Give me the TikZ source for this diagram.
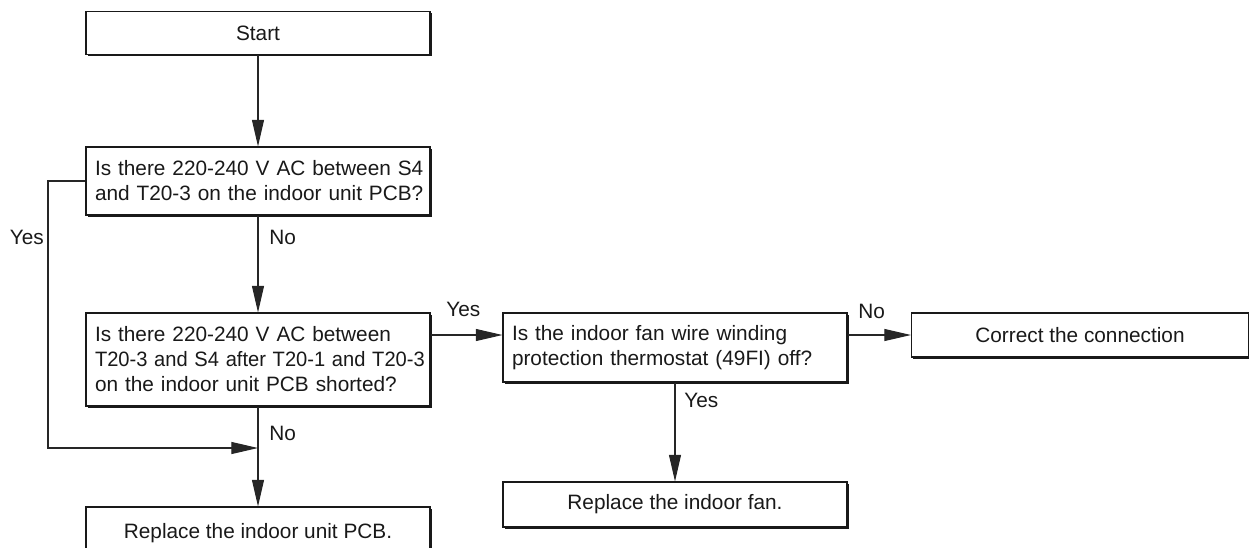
\documentclass[tikz,border=0pt]{standalone}
\usepackage{fontspec}
\setmainfont{Liberation Sans}
\usetikzlibrary{arrows.meta,shadows}
\newcommand\boxfont{\fontsize{15.6}{18.75}\selectfont}
\begin{document}
\begin{tikzpicture}[x=0.75pt,y=-0.75pt,
  box/.style={draw=black!90, line width=0.8pt, fill=white, inner sep=0pt, font=\boxfont, text=black!90,
    drop shadow={shadow xshift=1.4pt, shadow yshift=-1.4pt, opacity=1, fill=black!90}},
  qbox/.style={box, text width=244.5pt, align=left, inner xsep=6.75pt},
  conn/.style={draw=black!85, line width=0.8pt},
  arr/.style={conn, -{Triangle[length=20pt,width=9pt]}},
  lbl/.style={font=\boxfont, text=black!90, inner sep=0pt}]
\clip (0,0) rectangle (1249,547);
% boxes
\node[box, minimum width=258pt, minimum height=32.25pt] (start) at (258,33) {Start};
\node[qbox, minimum height=51pt] (q1) at (258,181) {\mbox{Is there 220-240 V AC between S4}\\\mbox{and T20-3 on the indoor unit PCB?}};
\node[qbox, minimum height=69.75pt] (q2) at (258,359.5) {\mbox{Is there 220-240 V AC between}\\\scalebox{0.967}[1]{T20-3 and S4 after T20-1 and T20-3}\\\mbox{on the indoor unit PCB shorted?}};
\node[box, minimum width=258pt, minimum height=39pt] (r1) at (258,533) {Replace the indoor unit PCB.};
\node[qbox, minimum height=51.75pt] (q3) at (675,347.5) {\mbox{Is the indoor fan wire winding}\\\mbox{protection thermostat (49FI) off?}};
\node[box, minimum width=258pt, minimum height=33.75pt] (r2) at (675,504.5) {Replace the indoor fan.};
\node[box, minimum width=252.75pt, minimum height=33pt] (r3) at (1080,335) {Correct the connection};
% helper coordinates
\coordinate (yl) at (48,181);
\coordinate (merge) at (258,448);
\coordinate (ylev) at (0,335);
% connectors
\draw[arr] (start.south) -- (q1.north);
\draw[arr] (q1.south) -- (q2.north);
\draw[arr] (q1.west) -- (yl) |- (merge);
\draw[arr] (q2.south) -- (r1.north);
\draw[arr] (q2.east |- ylev) -- (q3.west |- ylev);
\draw[arr] (q3.east |- r3.west) -- (r3.west);
\draw[arr] (q3.south) -- (r2.north);
% labels
\node[lbl, anchor=west] (l1) at (269,237) {No};
\node[lbl, anchor=east] (l2) at (44,237) {Yes};
\node[lbl, anchor=west] (l3) at (269,433) {No};
\node[lbl, anchor=west] (l4) at (446,309) {Yes};
\node[lbl, anchor=west] (l5) at (858,311) {No};
\node[lbl, anchor=west] (l6) at (684,400) {Yes};
\end{tikzpicture}
\end{document}
